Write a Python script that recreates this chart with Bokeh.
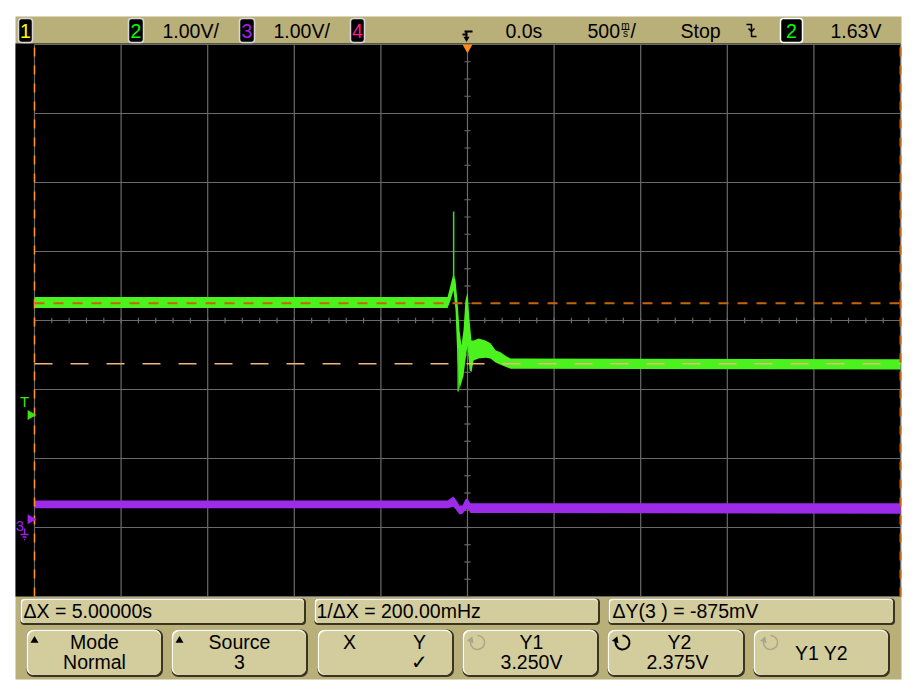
import math
from bokeh.plotting import figure
from bokeh.models import Range1d, ColumnDataSource
from bokeh.core.properties import value
from bokeh.embed import file_html
from bokeh.resources import INLINE

# ---------------- data (time in s, level in V) ----------------
time_ticks = [-2.5, -2.0, -1.5, -1.0, -0.5, 0.0, 0.5, 1.0, 1.5, 2.0, 2.5]
volt_ticks = [-1, 0, 1, 2, 3, 4, 5, 6, 7]

# channel 2 (green): envelope of the noisy trace
green_t  = [-2.50, -0.115, -0.098, -0.081, -0.069, -0.058, -0.046, -0.035, -0.023, -0.012,
            0.000, 0.012, 0.023, 0.035, 0.064, 0.104, 0.133, 0.162, 0.191, 0.219, 0.248, 2.50]
green_hi = [3.34, 3.34, 3.51, 3.68, 3.58, 3.29, 2.86, 2.64, 2.86, 3.29,
            3.41, 3.00, 2.71, 2.71, 2.74, 2.71, 2.67, 2.57, 2.54, 2.49, 2.45, 2.44]
green_lo = [3.18, 3.18, 3.29, 3.44, 3.15, 2.42, 2.00, 2.10, 2.20, 2.42,
            2.64, 2.28, 2.25, 2.42, 2.45, 2.46, 2.45, 2.39, 2.36, 2.33, 2.30, 2.29]
green_spike_t   = [-0.080, -0.054]
green_spike_top = [4.58, 2.60]
green_spike_bot = [3.60, 1.97]

# channel 3 (purple)
purple_t  = [-2.50, -0.115, -0.098, -0.081, -0.064, -0.046, -0.029, -0.012, 0.000, 0.017, 2.50]
purple_hi = [0.39, 0.39, 0.42, 0.45, 0.39, 0.32, 0.32, 0.41, 0.42, 0.35, 0.35]
purple_lo = [0.28, 0.28, 0.29, 0.30, 0.25, 0.19, 0.20, 0.25, 0.28, 0.21, 0.20]

cursor_x = [-2.5, 2.5]
cursor_y1 = 3.250
cursor_y2 = 2.375
trigger_level = 1.63
ch3_ground = 0.12

# ---------------- page geometry (pixels of the picture) ----------------
PX0, PX1, PY0, PY1 = 0, 909, 0, 688
GL, GR, GT, GB = 34, 900, 44, 596
t0, t1 = time_ticks[0], time_ticks[-1]
v0, v1 = volt_ticks[0], volt_ticks[-1]
sx = (t1 - t0) / (GR - GL)
sy = (v1 - v0) / (GB - GT)

p = figure(width=PX1 - PX0, height=PY1 - PY0, output_backend="svg", toolbar_location=None,
           x_axis_type=None, y_axis_type=None, min_border=0,
           x_range=Range1d(PX0, PX1), y_range=Range1d(PY1, PY0))
p.outline_line_color = None
p.background_fill_color = "white"
p.border_fill_color = "white"
p.extra_x_ranges = {"t": Range1d(t0 + (PX0 - GL) * sx, t1 + (PX1 - GR) * sx)}
p.extra_y_ranges = {"v": Range1d(v0 - (PY1 - GB) * sy, v1 + (GT - PY0) * sy)}
D = dict(x_range_name="t", y_range_name="v")
FONT = value("Liberation Sans")
FS = "19.5px"

KHAKI = "#b9af78"
FACE = "#d3cc9d"

# screen frame
p.quad(left=[15], right=[901], top=[16], bottom=[679], fill_color=KHAKI, line_color=None)
p.quad(left=[15], right=[900], top=[43], bottom=[596], fill_color="black", line_color=None)

# graticule
GRID = "#6a6a6a"
p.segment(x0=time_ticks, x1=time_ticks, y0=[v0] * len(time_ticks), y1=[v1] * len(time_ticks),
          line_color=GRID, line_width=1.2, **D)
p.segment(x0=[t0] * len(volt_ticks), x1=[t1] * len(volt_ticks), y0=volt_ticks, y1=volt_ticks,
          line_color=GRID, line_width=1.2, **D)
tm = [t0 + 0.1 * i for i in range(51)]
vm = [v0 + 0.25 * i for i in range(33)]
vc = (v0 + v1) / 2
tc = (t0 + t1) / 2
p.segment(x0=tm, x1=tm, y0=[vc - 0.04] * len(tm), y1=[vc + 0.04] * len(tm),
          line_color=GRID, line_width=1.2, **D)
p.segment(x0=[tc - 0.018] * len(vm), x1=[tc + 0.018] * len(vm), y0=vm, y1=vm,
          line_color=GRID, line_width=1.2, **D)

# traces
p.varea(x=purple_t, y1=purple_lo, y2=purple_hi, fill_color="#9d2bea", **D)
p.varea(x=green_t, y1=green_lo, y2=green_hi, fill_color="#4cf21e", **D)
p.segment(x0=green_spike_t, x1=green_spike_t, y0=green_spike_bot, y1=green_spike_top,
          line_color="#3ee018", line_width=1.5, **D)

# cursors
p.segment(x0=[cursor_x[0]], x1=[cursor_x[0]], y0=[v0], y1=[v1], line_color="#ff9326",
          line_width=1.5, line_dash="9 9", **D)
p.segment(x0=[cursor_x[1]], x1=[cursor_x[1]], y0=[v0], y1=[v1], line_color="#c8640f",
          line_width=2, line_dash="9 9", **D)
p.segment(x0=[t0], x1=[t1], y0=[cursor_y1], y1=[cursor_y1], line_color="#c8640a",
          line_width=2, line_dash="10 9", **D)
p.segment(x0=[t0], x1=[t1], y0=[cursor_y2], y1=[cursor_y2], line_color="#f2b47a",
          line_width=1.5, line_dash="18 18", **D)

# left markers
p.text(x=[24], y=[trigger_level + 0.2], text=["T"], text_color="#3ee018", text_font=FONT,
       text_font_size="15px", text_align="center", text_baseline="middle", y_range_name="v")
p.scatter(x=[30], y=[trigger_level], marker="triangle", size=10, angle=-math.pi / 2,
          fill_color="#3ee018", line_color=None, y_range_name="v")
p.text(x=[19.5], y=[ch3_ground - 0.1], text=["3"], text_color="#a020f0", text_font=FONT,
       text_font_size="15px", text_align="center", text_baseline="middle", y_range_name="v")
p.scatter(x=[30], y=[ch3_ground], marker="triangle", size=10, angle=-math.pi / 2,
          fill_color="#a020f0", line_color=None, y_range_name="v")
p.segment(x0=[24, 20, 22, 23.5], x1=[24, 28, 26, 24.5], y0=[528, 534, 536.5, 539],
          y1=[534, 534, 536.5, 539], line_color="#a020f0", line_width=1.3)

# top bar: channel boxes
boxes = [(18, 32, "1", "#ffff00", "#d8d8d8"), (128, 143, "2", "#00ff00", "#d8d8d8"),
         (239, 254, "3", "#a020f0", "#d8d8d8"), (350, 364, "4", "#ff1a8c", "#d8d8d8"),
         (780, 802, "2", "#00ff00", "#ffffff")]
for l, r, t, c, bc in boxes:
    p.quad(left=[l], right=[r], top=[18], bottom=[42], fill_color="black", line_color=bc,
           line_width=1.5, border_radius=3)
    p.text(x=[(l + r) / 2], y=[30], text=[t], text_color=c, text_font=FONT,
           text_font_size=FS, text_align="center", text_baseline="middle")

top_texts = ColumnDataSource(dict(x=[162, 273, 505, 587, 630, 680, 830],
                                  y=[30] * 7,
                                  t=["1.00V/", "1.00V/", "0.0s", "500", "/", "Stop", "1.63V"]))
p.text(x="x", y="y", text="t", source=top_texts, text_color="black", text_font=FONT,
       text_font_size=FS, text_align="left", text_baseline="middle")
p.text(x=[625, 625], y=[25, 33], text=["m", "s"], text_color="black", text_font=FONT,
       text_font_size="10px", text_align="center", text_baseline="middle")
p.segment(x0=[621], x1=[629], y0=[29], y1=[29], line_color="black", line_width=1)

# trigger position marker & icon
p.scatter(x=[tc], y=[47], marker="inverted_triangle", size=10, fill_color="#ff8c1a",
          line_color=None, x_range_name="t")
p.segment(x0=[464, 466, 462], x1=[472, 466, 466], y0=[31, 31, 34], y1=[31, 37, 34],
          line_color="black", line_width=2)
p.scatter(x=[466], y=[38], marker="inverted_triangle", size=6, fill_color="black", line_color=None)
# trigger edge icon
p.multi_line(xs=[[746, 751, 751, 756], [748, 751, 754]], ys=[[24, 24, 36, 36], [28, 31, 28]],
             line_color="black", line_width=1.5)


def bevel(l, r, t, b, rad):
    p.quad(left=[l - 1], right=[r + 1.5], top=[t - 1], bottom=[b + 1.5], fill_color="#3a3522",
           line_color=None, border_radius=rad)
    p.quad(left=[l - 1], right=[r - 0.5], top=[t - 1], bottom=[b - 0.5], fill_color="#fbfaf0",
           line_color=None, border_radius=rad)
    p.quad(left=[l + 0.5], right=[r - 0.5], top=[t + 0.5], bottom=[b - 0.5], fill_color=FACE,
           line_color=None, border_radius=rad)


for l, r in [(21, 304), (315, 598), (609, 893)]:
    bevel(l, r, 599, 623, 4)
for l, r in [(27, 161), (172, 306), (318, 452), (463, 597), (608, 743), (754, 888)]:
    bevel(l, r, 630, 675, 7)

bottom_left = ColumnDataSource(dict(x=[23, 316, 612], y=[610.5] * 3,
                                    t=["\u0394X = 5.00000s", "1/\u0394X = 200.00mHz",
                                       "\u0394Y(3 ) = -875mV"]))
p.text(x="x", y="y", text="t", source=bottom_left, text_color="black", text_font=FONT,
       text_font_size=FS, text_align="left", text_baseline="middle")
btn = ColumnDataSource(dict(
    x=[94, 94, 239, 239, 349, 419, 419, 531, 531, 679, 677, 821],
    y=[641, 661, 641, 661, 641, 641, 661, 641, 661, 641, 661, 652],
    t=["Mode", "Normal", "Source", "3", "X", "Y", "\u2713", "Y1", "3.250V", "Y2", "2.375V", "Y1 Y2"]))
p.text(x="x", y="y", text="t", source=btn, text_color="black", text_font=FONT,
       text_font_size=FS, text_align="center", text_baseline="middle")
p.scatter(x=[34, 179], y=[640, 640], marker="triangle", size=8, fill_color="black", line_color=None)

# rotate icons
for cx, col, lw in [(477, "#a9a68c", 1.5), (622, "black", 2), (770, "#a9a68c", 1.5)]:
    p.arc(x=[cx], y=[642], radius=7, start_angle=math.radians(160), end_angle=math.radians(450),
          direction="anticlock", line_color=col, line_width=lw)
    p.scatter(x=[cx - 6.6], y=[639.6], marker="triangle", size=7, angle=math.radians(-20),
              fill_color=col, line_color=None)

open("out.html", "w").write(file_html(p, INLINE))
